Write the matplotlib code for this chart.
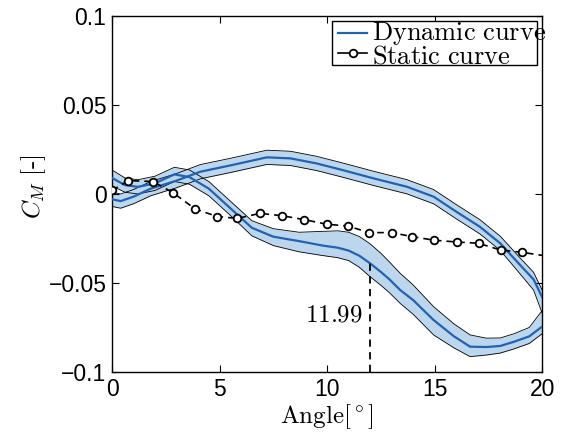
import numpy as np
import matplotlib
matplotlib.use("Agg")
import matplotlib.pyplot as plt
from matplotlib.patches import Rectangle
from matplotlib.lines import Line2D

plt.rcParams['font.family'] = ['Liberation Sans', 'DejaVu Sans']
plt.rcParams['mathtext.fontset'] = 'cm'

# dynamic loop, branch that dips (stall side)
dyn_a_x = [0, 0.6, 1.2, 2.0, 2.9, 3.6, 4.5, 5.5, 6.5, 7.5, 8.7, 9.8, 10.5, 11.0, 11.5,
           12.0, 12.5, 12.9, 13.4, 14.0, 14.95, 15.9, 16.65, 17.4, 18.05, 18.7, 19.4, 20.0]
dyn_a_y = [0.009, 0.005, 0.004, 0.006, 0.011, 0.0095, 0.003, -0.008, -0.019, -0.024,
           -0.0265, -0.029, -0.0302, -0.0318, -0.0347, -0.039, -0.0438, -0.048, -0.054,
           -0.0596, -0.0708, -0.080, -0.0858, -0.086, -0.0854, -0.083, -0.080, -0.0745]
dyn_a_hi = [0.0045, 0.004, 0.004, 0.004, 0.004, 0.004, 0.004, 0.004, 0.004, 0.0045,
            0.005, 0.008, 0.0095, 0.0103, 0.0108, 0.011, 0.0105, 0.0098, 0.0094, 0.0085,
            0.0075, 0.007, 0.0066, 0.005, 0.0045, 0.0045, 0.005, 0.009]
dyn_a_lo = [0.0045, 0.004, 0.004, 0.004, 0.004, 0.004, 0.004, 0.004, 0.0045, 0.005,
            0.006, 0.0056, 0.0056, 0.0056, 0.0065, 0.0075, 0.0075, 0.0075, 0.0075, 0.008,
            0.0084, 0.0065, 0.0056, 0.0045, 0.004, 0.004, 0.004, 0.004]

# dynamic loop, upper branch
dyn_b_x = [0, 0.4, 1.0, 1.8, 3.0, 4.1, 5.6, 7.2, 8.3, 9.5, 10.7, 12.15, 13.7,
           14.95, 16.0, 17.1, 18.05, 18.98, 19.6, 20.0]
dyn_b_y = [-0.003, -0.004, -0.0015, 0.003, 0.0075, 0.0125, 0.0163, 0.0206, 0.020,
           0.0172, 0.0135, 0.0088, 0.0041, -0.0015, -0.0099, -0.0184, -0.0277,
           -0.040, -0.048, -0.058]
dyn_b_hi = [0.004] * 20
dyn_b_lo = [0.004] * 17 + [0.005, 0.006, 0.009]

# static curve
stat_x = [0, 0.75, 1.9, 2.85, 3.86, 4.9, 5.83, 6.88, 7.9, 8.93, 9.99, 10.95,
          11.97, 13.0, 13.97, 14.99, 16.06, 17.04, 18.07, 19.08, 20.0]
stat_y = [0.002, 0.0075, 0.007, 0.0006, -0.0084, -0.0127, -0.0137, -0.0109,
          -0.0122, -0.0144, -0.017, -0.018, -0.0217, -0.0217, -0.024, -0.026,
          -0.027, -0.0277, -0.0315, -0.0328, -0.0345]

mark_x = 11.99
mark_y = -0.039

blue = '#2262b2'
fill_c = '#bcd6ee'

fig = plt.figure(figsize=(5.63, 4.33), dpi=100)
ax = fig.add_axes([0.199, 0.141, 0.764, 0.822])

for bx, by, hi, lo in [(dyn_b_x, dyn_b_y, dyn_b_hi, dyn_b_lo),
                       (dyn_a_x, dyn_a_y, dyn_a_hi, dyn_a_lo)]:
    bx = np.array(bx)
    by = np.array(by)
    up = by + np.array(hi)
    dn = by - np.array(lo)
    ax.fill_between(bx, dn, up, color=fill_c, lw=0, zorder=1)
    ax.plot(bx, up, color='k', lw=0.6, zorder=2)
    ax.plot(bx, dn, color='k', lw=0.6, zorder=2)
    ax.plot(bx, by, color=blue, lw=1.6, zorder=3)

ax.plot(stat_x, stat_y, color='k', ls=(0, (4, 3)), lw=1.2, marker='o', ms=5.5,
        mfc='white', mec='k', mew=1.3, markevery=list(range(len(stat_x) - 1)), zorder=4)

ax.plot([mark_x, mark_x], [-0.1, mark_y], color='k', ls=(0, (4, 3)), lw=1.3, zorder=4)
ax.text(mark_x - 0.35, -0.0675, r'$11.99$', fontsize=18, ha='right', va='center')

ax.set_xlim(0, 20)
ax.set_ylim(-0.1, 0.1)
ax.set_xticks([0, 5, 10, 15, 20])
ax.set_yticks([-0.1, -0.05, 0, 0.05, 0.1])
ax.set_yticklabels(['\u22120.1', '\u22120.05', '0', '0.05', '0.1'])
ax.tick_params(direction='in', length=5, width=0.8, labelsize=16.5, pad=4,
               top=True, right=True)
for s in ax.spines.values():
    s.set_linewidth(1.0)

ax.set_xlabel(r'$\mathrm{Angle}[^\circ]$', fontsize=18, labelpad=1)
ax.set_ylabel(r'$C_M\ [\text{-}]$', fontsize=18)
ax.yaxis.set_label_coords(-0.15, 0.52)

# legend drawn by hand so the text can run past the box like the original
tr = ax.transAxes
ax.add_patch(Rectangle((0.511, 0.862), 0.477, 0.125, transform=tr, fill=True,
                       fc='white', ec='k', lw=1.0, zorder=5))
ax.add_line(Line2D([0.526, 0.593], [0.952, 0.952], transform=tr, color=blue,
                   lw=1.6, zorder=6))
ax.add_line(Line2D([0.526, 0.593], [0.895, 0.895], transform=tr, color='k',
                   lw=1.2, zorder=6))
ax.add_line(Line2D([0.56], [0.895], transform=tr, marker='o', ms=5.5, mfc='white',
                   mec='k', mew=1.3, zorder=7))
ax.text(0.604, 0.933, r'$\mathrm{Dynamic\ curve}$', transform=tr, fontsize=19,
        va='baseline', zorder=7, clip_on=False)
ax.text(0.604, 0.868, r'$\mathrm{Static\ curve}$', transform=tr, fontsize=19,
        va='baseline', zorder=7, clip_on=False)

fig.savefig('out.png', dpi=100)
